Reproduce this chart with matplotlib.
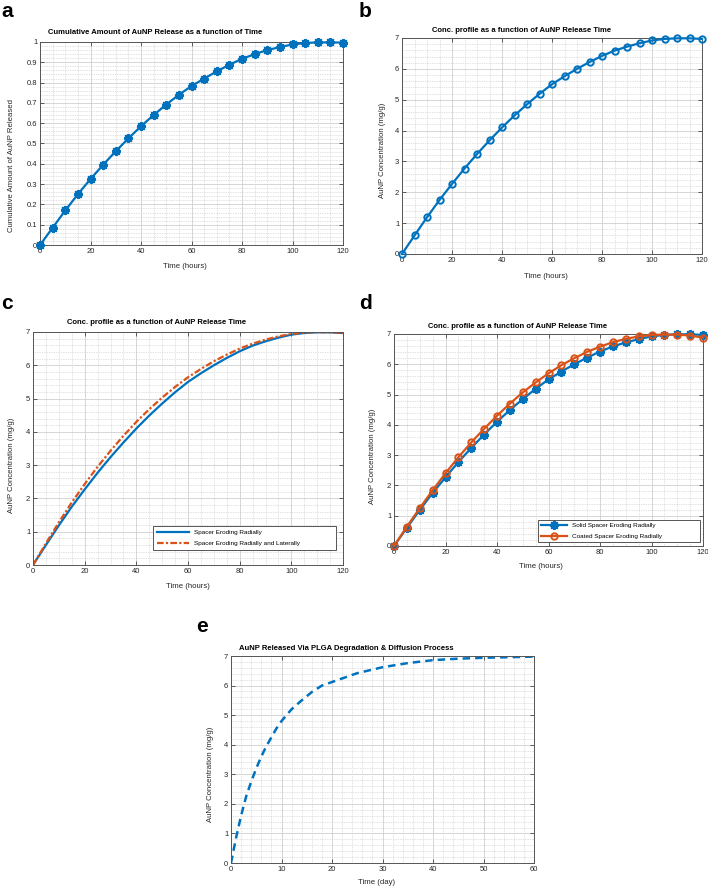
import numpy as np
import matplotlib
matplotlib.use("Agg")
import matplotlib.pyplot as plt
from matplotlib.ticker import AutoMinorLocator, MultipleLocator

plt.rcParams['font.family'] = ['Liberation Sans', 'DejaVu Sans']

# ---------------- data ----------------
t_hours = list(range(0, 125, 5))
cum_release = [0, 0.085, 0.17, 0.25, 0.325, 0.395, 0.462, 0.525, 0.585, 0.64,
               0.692, 0.74, 0.783, 0.82, 0.855, 0.888, 0.917, 0.94, 0.96, 0.975,
               0.988, 0.995, 0.998, 0.998, 0.997]
conc_radial = [0, 0.6, 1.19, 1.75, 2.27, 2.77, 3.24, 3.68, 4.1, 4.49, 4.85, 5.19,
               5.5, 5.76, 6.0, 6.22, 6.42, 6.59, 6.72, 6.83, 6.92, 6.97, 6.99, 6.99, 6.97]
conc_rad_lat = [0, 0.65, 1.28, 1.88, 2.43, 2.95, 3.43, 3.88, 4.3, 4.68, 5.03, 5.35,
                5.64, 5.89, 6.12, 6.32, 6.5, 6.65, 6.77, 6.87, 6.94, 6.98, 7.0, 6.99, 6.97]
conc_coated = [0, 0.64, 1.25, 1.84, 2.4, 2.93, 3.42, 3.87, 4.3, 4.7, 5.07, 5.4,
               5.7, 5.97, 6.2, 6.41, 6.58, 6.73, 6.84, 6.92, 6.97, 6.98, 6.98, 6.95, 6.88]
t_days = [0, 1, 2, 3, 4, 5, 6, 7, 8, 9, 10, 12, 14, 16, 18, 20, 25, 30, 35, 40, 45, 50, 55, 60]
conc_plga = [0, 0.85, 1.6, 2.25, 2.75, 3.2, 3.6, 3.95, 4.25, 4.55, 4.8, 5.2, 5.5,
             5.78, 6.0, 6.12, 6.42, 6.62, 6.76, 6.86, 6.91, 6.94, 6.96, 6.98]

legend_c = ["Spacer Eroding Radially", "Spacer Eroding Radially and Laterally"]
legend_d = ["Solid Spacer Eroding Radially", "Coated Spacer Eroding Radially"]

BLUE = '#0072BD'
RED = '#D95319'

W, H = 708, 886
fig = plt.figure(figsize=(W / 100, H / 100), dpi=100)

def mk_ax(left, right, top, bottom):
    return fig.add_axes([left / W, 1 - bottom / H, (right - left) / W, (bottom - top) / H])

def fx(x):
    return x / W

def fy(y):
    return 1 - y / H

TICK_FS = 5.5
LABEL_FS = 5.6
TITLE_FS = 5.5

def style(ax, xmax, xstep, ymax, ystep):
    ax.set_xlim(0, xmax)
    ax.set_ylim(0, ymax)
    ax.xaxis.set_major_locator(MultipleLocator(xstep))
    ax.yaxis.set_major_locator(MultipleLocator(ystep))
    ax.xaxis.set_minor_locator(AutoMinorLocator())
    ax.yaxis.set_minor_locator(AutoMinorLocator())
    ax.grid(True, which='major', color='#d0d0d0', linewidth=0.6, linestyle='-')
    ax.grid(True, which='minor', color='#c4c4c4', linewidth=0.5, linestyle=(0, (1, 1.5)))
    ax.set_axisbelow(True)
    ax.tick_params(which='both', direction='in', top=True, right=True,
                   labelsize=TICK_FS, colors='#444444', pad=2)
    ax.tick_params(which='major', length=3, width=0.6)
    ax.tick_params(which='minor', length=0)
    for s in ax.spines.values():
        s.set_color('#555555')
        s.set_linewidth(0.7)
    for lab in ax.get_xticklabels() + ax.get_yticklabels():
        lab.set_color('#262626')

def letter(x, y, s):
    fig.text(fx(x), fy(y), s, fontsize=15, fontweight='bold', va='top', ha='left')

def title(x, y, s):
    fig.text(fx(x), fy(y), s, fontsize=TITLE_FS, fontweight='bold', ha='center', va='center')

def xlab(x, y, s):
    fig.text(fx(x), fy(y), s, fontsize=LABEL_FS, ha='center', va='center', color='#262626')

def ylab(x, y, s):
    fig.text(fx(x), fy(y), s, fontsize=LABEL_FS, ha='center', va='center', rotation=90, color='#262626')

ASTER = (8, 2, 0)

# ---------- a ----------
ax = mk_ax(40, 343, 42, 245)
ax.plot(t_hours, cum_release, color=BLUE, lw=1.6, marker=ASTER, ms=6.5, mew=1.4, clip_on=False, zorder=3)
style(ax, 120, 20, 1.0, 0.1)
ax.yaxis.set_major_formatter(matplotlib.ticker.FuncFormatter(lambda v, p: f"{v:g}"))
letter(1, 2, 'a')
title(155, 32, 'Cumulative Amount of AuNP Release as a function of Time')
xlab(185, 266, 'Time (hours)')
ylab(12, 165, 'Cumulative Amount of AuNP Released')

# ---------- b ----------
ax = mk_ax(402, 702, 38, 254)
ax.plot(t_hours, conc_radial, color=BLUE, lw=1.6, marker='o', ms=4.6, mfc='none', mew=1.4, clip_on=False, zorder=3)
style(ax, 120, 20, 7, 1)
letter(359, 2, 'b')
title(522, 30, 'Conc. profile as a function of AuNP Release Time')
xlab(546, 276, 'Time (hours)')
ylab(383, 150, 'AuNP Concentration (mg/g)')

# ---------- c ----------
ax = mk_ax(33, 343, 332, 565)
ax.plot(t_hours, conc_radial, color=BLUE, lw=1.6, label=legend_c[0])
ax.plot(t_hours, conc_rad_lat, color=RED, lw=1.6, linestyle=(0, (3, 1, 1, 1)), label=legend_c[1])
style(ax, 120, 20, 7, 1)
leg = ax.legend(loc='lower left', bbox_to_anchor=(fx(153), fy(550), fx(336) - fx(153), fy(524) - fy(550)),
                bbox_transform=fig.transFigure, mode='expand', fontsize=4.6, frameon=True,
                fancybox=False, edgecolor='#555555', framealpha=1, handlelength=5,
                borderpad=0.6, labelspacing=0.9, borderaxespad=0)
leg.get_frame().set_linewidth(0.7)
letter(1, 294, 'c')
title(157, 323, 'Conc. profile as a function of AuNP Release Time')
xlab(188, 586, 'Time (hours)')
ylab(12, 465, 'AuNP Concentration (mg/g)')

# ---------- d ----------
ax = mk_ax(394, 703, 334, 546)
ax.plot(t_hours, conc_radial, color=BLUE, lw=1.6, marker=ASTER, ms=6.5, mew=1.4, label=legend_d[0], clip_on=False, zorder=3)
ax.plot(t_hours, conc_coated, color=RED, lw=1.6, marker='o', ms=4.6, mfc='none', mew=1.4, label=legend_d[1], clip_on=False, zorder=3)
style(ax, 120, 20, 7, 1)
leg = ax.legend(loc='lower left', bbox_to_anchor=(fx(538), fy(542), fx(700) - fx(538), fy(519) - fy(542)),
                bbox_transform=fig.transFigure, mode='expand', fontsize=4.6, frameon=True,
                fancybox=False, edgecolor='#555555', framealpha=1, handlelength=4,
                borderpad=0.5, labelspacing=0.8, borderaxespad=0)
leg.get_frame().set_linewidth(0.7)
leg.set_zorder(5)
letter(359, 294, 'd')
title(518, 326, 'Conc. profile as a function of AuNP Release Time')
xlab(541, 567, 'Time (hours)')
ylab(373, 456, 'AuNP Concentration (mg/g)')

# ---------- e ----------
ax = mk_ax(231, 534, 656, 863)
ax.plot(t_days, conc_plga, color=BLUE, lw=1.8, linestyle=(0, (3, 2)))
style(ax, 60, 10, 7, 1)
letter(196, 617, 'e')
title(346, 648, 'AuNP Released Via PLGA Degradation & Diffusion Process')
xlab(377, 883, 'Time (day)')
ylab(211, 774, 'AuNP Concentration (mg/g)')

fig.savefig('out.png', dpi=100)
